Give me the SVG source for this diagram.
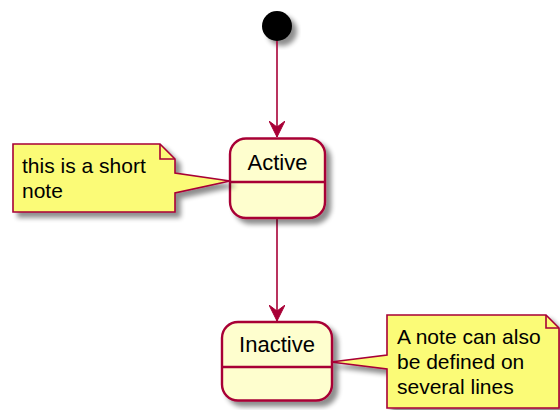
<svg xmlns="http://www.w3.org/2000/svg" width="560" height="410" viewBox="0 0 560 410">
<defs>
<filter id="sh" x="-20%" y="-20%" width="150%" height="150%">
<feGaussianBlur in="SourceAlpha" stdDeviation="2.5"/>
<feOffset dx="5" dy="5" result="b"/>
<feComponentTransfer><feFuncA type="linear" slope="0.45"/></feComponentTransfer>
<feMerge><feMergeNode/><feMergeNode in="SourceGraphic"/></feMerge>
</filter>
<marker id="arr" markerWidth="18" markerHeight="16" refX="16" refY="8" orient="auto" markerUnits="userSpaceOnUse">
<path d="M0,0 L16,8 L0,16 L6,8 Z" fill="#A80036" stroke="#A80036" stroke-width="1"/>
</marker>
</defs>
<style>
.state{fill:#FEFECE;stroke:#A80036;stroke-width:2.4}
.div{stroke:#A80036;stroke-width:2.4}
.note{fill:#FBFB77;stroke:#A80036;stroke-width:1.6}
.fold{fill:none;stroke:#A80036;stroke-width:1.6}
.edge{stroke:#A80036;stroke-width:1.6;fill:none}
.sname{font-family:"Liberation Sans",Arial,sans-serif;font-size:22px;fill:#000;text-anchor:middle}
.ntext{font-family:"Liberation Sans",Arial,sans-serif;font-size:21px;fill:#000}
</style>
<g id="start">
<circle cx="277" cy="26" r="15" fill="#000" filter="url(#sh)"/>
</g>
<g id="connectors">
<line class="edge" x1="277" y1="41" x2="277" y2="137" marker-end="url(#arr)"/>
<line class="edge" x1="277" y1="218" x2="277" y2="321" marker-end="url(#arr)"/>
</g>
<g id="Active">
<rect class="state" x="230" y="138.5" width="95" height="79.5" rx="16" ry="16" filter="url(#sh)"/>
<line class="div" x1="230" y1="182" x2="325" y2="182"/>
<text class="sname" x="277.5" y="170">Active</text>
</g>
<g id="Inactive">
<rect class="state" x="222" y="322" width="110" height="78.5" rx="16" ry="16" filter="url(#sh)"/>
<line class="div" x1="222" y1="367" x2="332" y2="367"/>
<text class="sname" x="277" y="352">Inactive</text>
</g>
<g id="note1">
<path class="note" d="M13,144 L160,144 L175,159 L175,173 L230,181 L175,193 L175,212 L13,212 Z" filter="url(#sh)"/>
<path class="fold" d="M160,144 L160,159 L175,159"/>
<text class="ntext" x="22" y="173">this is a short</text>
<text class="ntext" x="22" y="198">note</text>
</g>
<g id="note2">
<path class="note" d="M387,315 L546,315 L559,328 L559,408 L387,408 L387,369 L331,362 L387,355 Z" filter="url(#sh)"/>
<path class="fold" d="M546,315 L546,328 L559,328"/>
<text class="ntext" x="397" y="344">A note can also</text>
<text class="ntext" x="397" y="369">be defined on</text>
<text class="ntext" x="397" y="394">several lines</text>
</g>
</svg>
